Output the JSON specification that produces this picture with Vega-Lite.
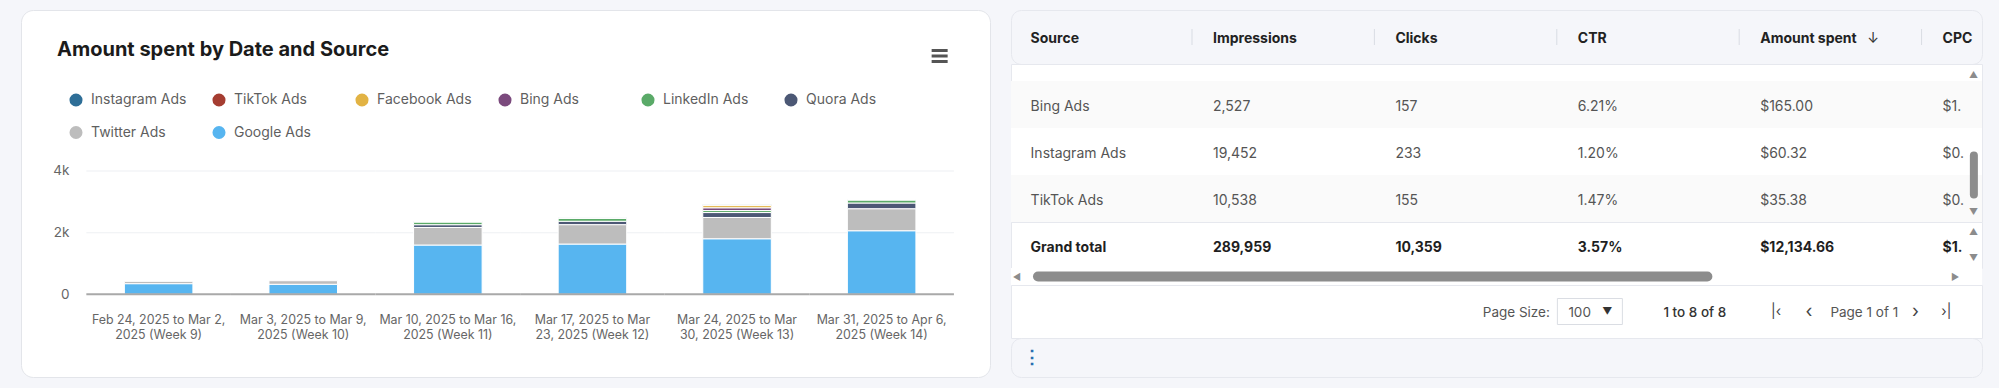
{
  "$schema": "https://vega.github.io/schema/vega-lite/v6.json",
  "background": "#f5f6fa",
  "padding": {"left": 20, "top": 9, "right": 17, "bottom": 11},
  "bounds": "flush",
  "spacing": 21,
  "config": {
    "font": "Inter",
    "view": {"stroke": null},
    "axis": {"labelFont": "Inter"},
    "legend": {"labelFont": "Inter"},
    "text": {"font": "Inter"},
    "title": {"font": "Inter"}
  },
  "resolve": {"scale": {"x": "independent", "y": "independent", "color": "independent"}},
  "datasets": {
    "spend": [
      {"Week": "Feb 24, 2025 to Mar 2, 2025 (Week 9)", "Source": "Google Ads", "Amount": 345},
      {"Week": "Feb 24, 2025 to Mar 2, 2025 (Week 9)", "Source": "Twitter Ads", "Amount": 75},
      {"Week": "Mar 3, 2025 to Mar 9, 2025 (Week 10)", "Source": "Google Ads", "Amount": 325},
      {"Week": "Mar 3, 2025 to Mar 9, 2025 (Week 10)", "Source": "Twitter Ads", "Amount": 115},
      {"Week": "Mar 10, 2025 to Mar 16, 2025 (Week 11)", "Source": "Google Ads", "Amount": 1598},
      {"Week": "Mar 10, 2025 to Mar 16, 2025 (Week 11)", "Source": "Twitter Ads", "Amount": 570},
      {"Week": "Mar 10, 2025 to Mar 16, 2025 (Week 11)", "Source": "Instagram Ads", "Amount": 14},
      {"Week": "Mar 10, 2025 to Mar 16, 2025 (Week 11)", "Source": "TikTok Ads", "Amount": 8},
      {"Week": "Mar 10, 2025 to Mar 16, 2025 (Week 11)", "Source": "Quora Ads", "Amount": 90},
      {"Week": "Mar 10, 2025 to Mar 16, 2025 (Week 11)", "Source": "LinkedIn Ads", "Amount": 80},
      {"Week": "Mar 17, 2025 to Mar 23, 2025 (Week 12)", "Source": "Google Ads", "Amount": 1630},
      {"Week": "Mar 17, 2025 to Mar 23, 2025 (Week 12)", "Source": "Twitter Ads", "Amount": 630},
      {"Week": "Mar 17, 2025 to Mar 23, 2025 (Week 12)", "Source": "Instagram Ads", "Amount": 15},
      {"Week": "Mar 17, 2025 to Mar 23, 2025 (Week 12)", "Source": "TikTok Ads", "Amount": 8},
      {"Week": "Mar 17, 2025 to Mar 23, 2025 (Week 12)", "Source": "Quora Ads", "Amount": 110},
      {"Week": "Mar 17, 2025 to Mar 23, 2025 (Week 12)", "Source": "LinkedIn Ads", "Amount": 90},
      {"Week": "Mar 24, 2025 to Mar 30, 2025 (Week 13)", "Source": "Google Ads", "Amount": 1802},
      {"Week": "Mar 24, 2025 to Mar 30, 2025 (Week 13)", "Source": "Twitter Ads", "Amount": 690},
      {"Week": "Mar 24, 2025 to Mar 30, 2025 (Week 13)", "Source": "Instagram Ads", "Amount": 16},
      {"Week": "Mar 24, 2025 to Mar 30, 2025 (Week 13)", "Source": "TikTok Ads", "Amount": 10},
      {"Week": "Mar 24, 2025 to Mar 30, 2025 (Week 13)", "Source": "Quora Ads", "Amount": 160},
      {"Week": "Mar 24, 2025 to Mar 30, 2025 (Week 13)", "Source": "LinkedIn Ads", "Amount": 65},
      {"Week": "Mar 24, 2025 to Mar 30, 2025 (Week 13)", "Source": "Bing Ads", "Amount": 90},
      {"Week": "Mar 24, 2025 to Mar 30, 2025 (Week 13)", "Source": "Facebook Ads", "Amount": 70},
      {"Week": "Mar 31, 2025 to Apr 6, 2025 (Week 14)", "Source": "Google Ads", "Amount": 2062},
      {"Week": "Mar 31, 2025 to Apr 6, 2025 (Week 14)", "Source": "Twitter Ads", "Amount": 715},
      {"Week": "Mar 31, 2025 to Apr 6, 2025 (Week 14)", "Source": "Instagram Ads", "Amount": 15},
      {"Week": "Mar 31, 2025 to Apr 6, 2025 (Week 14)", "Source": "TikTok Ads", "Amount": 9},
      {"Week": "Mar 31, 2025 to Apr 6, 2025 (Week 14)", "Source": "Quora Ads", "Amount": 185},
      {"Week": "Mar 31, 2025 to Apr 6, 2025 (Week 14)", "Source": "LinkedIn Ads", "Amount": 90}
    ],
    "columns": [
      {"Column": "Source"}, {"Column": "Impressions"}, {"Column": "Clicks"},
      {"Column": "CTR"}, {"Column": "Amount spent"}, {"Column": "CPC"}
    ],
    "sources": [
      {"Source": "Bing Ads", "Impressions": 2527, "Clicks": 157, "CTR": 0.0621, "Amount": 165.00, "CPC": 1.05},
      {"Source": "Instagram Ads", "Impressions": 19452, "Clicks": 233, "CTR": 0.0120, "Amount": 60.32, "CPC": 0.26},
      {"Source": "TikTok Ads", "Impressions": 10538, "Clicks": 155, "CTR": 0.0147, "Amount": 35.38, "CPC": 0.23}
    ],
    "total": [
      {"Source": "Grand total", "Impressions": 289959, "Clicks": 10359, "CTR": 0.0357, "Amount": 12134.66, "CPC": 1.17}
    ]
  },
  "hconcat": [
    {
      "width": 969,
      "height": 367,
      "view": {"fill": "#ffffff", "stroke": "#e3e5ea", "cornerRadius": 12},
      "title": {"text": "Amount spent by Date and Source", "anchor": "start", "frame": "group", "offset": -50, "dx": 36, "fontSize": 20, "fontWeight": 700, "color": "#1b1b1b"},
      "data": {"name": "spend"},
      "transform": [
        {"calculate": "indexof(['Instagram Ads','TikTok Ads','Facebook Ads','Bing Ads','LinkedIn Ads','Quora Ads','Twitter Ads','Google Ads'], datum.Source)", "as": "stackRank"}
      ],
      "layer": [
        {
          "transform": [{"aggregate": [{"op": "count", "as": "n"}], "groupby": ["Week"]}],
          "mark": {"type": "tick", "orient": "horizontal", "size": 144.6, "thickness": 1, "color": "#eef0f3", "opacity": 1},
          "encoding": {
            "x": {"field": "Week", "type": "nominal"},
            "y": {"datum": 2000, "type": "quantitative"}
          }
        },
        {
          "transform": [{"aggregate": [{"op": "count", "as": "n"}], "groupby": ["Week"]}],
          "mark": {"type": "tick", "orient": "horizontal", "size": 144.6, "thickness": 1, "color": "#eef0f3", "opacity": 1},
          "encoding": {
            "x": {"field": "Week", "type": "nominal"},
            "y": {"datum": 4000, "type": "quantitative"}
          }
        },
        {
          "mark": {"type": "bar", "stroke": "#ffffff", "strokeWidth": 1},
          "encoding": {
            "x": {
              "field": "Week", "type": "nominal",
              "scale": {"domain": ["Feb 24, 2025 to Mar 2, 2025 (Week 9)", "Mar 3, 2025 to Mar 9, 2025 (Week 10)", "Mar 10, 2025 to Mar 16, 2025 (Week 11)", "Mar 17, 2025 to Mar 23, 2025 (Week 12)", "Mar 24, 2025 to Mar 30, 2025 (Week 13)", "Mar 31, 2025 to Apr 6, 2025 (Week 14)"], "paddingInner": 0.526, "paddingOuter": 0.6136, "align": 0.5825},
              "axis": {"title": null, "orient": "bottom", "offset": -82.7, "domain": false, "ticks": false, "grid": false, "labelPadding": 19, "labelFontSize": 12.4, "labelColor": "#666666", "labelLineHeight": 15.7, "labelAngle": 0, "labelAlign": "center", "labelBaseline": "top", "labelLimit": 0, "labelOverlap": false, "labelBound": false,
                "labelExpr": "indexof(datum.value, 'Week 12') >= 0 || indexof(datum.value, 'Week 13') >= 0 ? [join(slice(split(datum.value, ' '), 0, 5), ' '), join(slice(split(datum.value, ' '), 5), ' ')] : [join(slice(split(datum.value, ' '), 0, 6), ' '), join(slice(split(datum.value, ' '), 6), ' ')]"}
            },
            "y": {
              "field": "Amount", "type": "quantitative", "stack": "zero",
              "scale": {"domain": [-2683, 9223], "nice": false, "zero": false},
              "axis": {"title": null, "orient": "left", "offset": -65, "values": [0, 2000, 4000], "labelExpr": "datum.value === 0 ? '0' : format(datum.value / 1000, 'd') + 'k'", "domain": false, "ticks": false, "grid": false, "labelPadding": 17, "labelFontSize": 13.5, "labelColor": "#666666", "labelAlign": "right", "labelBaseline": "middle"}
            },
            "color": {
              "field": "Source", "type": "nominal",
              "scale": {"domain": ["Instagram Ads", "TikTok Ads", "Facebook Ads", "Bing Ads", "LinkedIn Ads", "Quora Ads", "Twitter Ads", "Google Ads"],
                        "range": ["#2e6e97", "#a53d31", "#e2b344", "#7b4a7d", "#5aaa68", "#4c5875", "#bdbdbd", "#57b5f0"]},
              "legend": {"title": null, "orient": "none", "legendX": 48, "legendY": 83, "direction": "horizontal", "columns": 6, "gridAlign": "all", "columnPadding": 25, "rowPadding": 18.5, "symbolType": "circle", "symbolSize": 170, "symbolStrokeWidth": 0, "symbolOpacity": 1, "labelFontSize": 14, "labelColor": "#5f5f5f", "labelOffset": 8, "padding": 0, "labelLimit": 0}
            },
            "order": {"field": "stackRank", "type": "quantitative", "sort": "descending"}
          }
        },
        {
          "transform": [{"aggregate": [{"op": "count", "as": "n"}], "groupby": ["Week"]}],
          "mark": {"type": "tick", "orient": "horizontal", "size": 144.6, "thickness": 2, "color": "#a9a9a9", "opacity": 1},
          "encoding": {
            "x": {"field": "Week", "type": "nominal"},
            "y": {"datum": 0, "type": "quantitative"}
          }
        },
        {
          "transform": [{"aggregate": [{"op": "count", "as": "n"}]}],
          "mark": {"type": "point", "shape": "M-1,-0.7H1M-1,0H1M-1,0.7H1", "size": 256, "filled": false, "stroke": "#555555", "strokeWidth": 3, "opacity": 1, "xOffset": 58},
          "encoding": {
            "x": {"datum": "Mar 31, 2025 to Apr 6, 2025 (Week 14)", "type": "nominal"},
            "y": {"datum": 7730, "type": "quantitative"}
          }
        }
      ]
    },
    {
      "vconcat": [
        {
          "width": 971,
          "height": 54,
          "view": {"fill": "#f5f6fa", "stroke": "#e6e8ee", "cornerRadius": 10},
          "data": {"name": "columns"},
          "layer": [
            {
              "mark": {"type": "text", "align": "left", "baseline": "middle", "fontSize": 14, "fontWeight": 700, "color": "#222222", "dy": 2},
              "encoding": {
                "x": {"field": "Column", "type": "nominal", "scale": {"type": "point", "domain": ["Source", "Impressions", "Clicks", "CTR", "Amount spent", "CPC"], "padding": 0.1618, "align": 0.332}, "axis": null},
                "text": {"field": "Column"}
              }
            },
            {
              "transform": [{"filter": "datum.Column !== 'Source'"}],
              "mark": {"type": "point", "shape": "M0,-1V1", "size": 256, "filled": false, "stroke": "#d9dce3", "strokeWidth": 1, "opacity": 1, "xOffset": -21},
              "encoding": {"x": {"field": "Column", "type": "nominal", "axis": null}}
            },
            {
              "transform": [{"filter": "datum.Column === 'Amount spent'"}],
              "mark": {"type": "text", "text": "↓", "align": "center", "baseline": "middle", "fontSize": 14, "color": "#333333", "dx": 113, "dy": 2},
              "encoding": {"x": {"field": "Column", "type": "nominal", "axis": null}}
            }
          ]
        },
        {
          "width": 971,
          "height": 158,
          "view": {"fill": "#ffffff", "stroke": "#e6e8ee"},
          "data": {"name": "sources"},
          "layer": [
            {
              "mark": {"type": "rect"},
              "encoding": {
                "y": {"field": "Source", "type": "nominal", "scale": {"type": "band", "domain": ["Bing Ads", "Instagram Ads", "TikTok Ads"], "paddingInner": 0, "paddingOuter": 0.181, "align": 1}, "axis": null},
                "fill": {"condition": {"test": "datum.Source === 'Instagram Ads'", "value": "#ffffff"}, "value": "#fafafa"}
              }
            },
            {
              "mark": {"type": "text", "align": "left", "baseline": "middle", "fontSize": 14, "color": "#555555", "dy": 2},
              "encoding": {
                "x": {"datum": "Source", "type": "nominal", "scale": {"type": "point", "domain": ["Source", "Impressions", "Clicks", "CTR", "Amount spent", "CPC"], "padding": 0.1618, "align": 0.332}, "axis": null},
                "y": {"field": "Source", "type": "nominal", "axis": null},
                "text": {"field": "Source"}
              }
            },
            {
              "mark": {"type": "text", "align": "left", "baseline": "middle", "fontSize": 14, "color": "#555555", "dy": 2},
              "encoding": {
                "x": {"datum": "Impressions", "type": "nominal", "axis": null},
                "y": {"field": "Source", "type": "nominal", "axis": null},
                "text": {"field": "Impressions", "type": "quantitative", "format": ","}
              }
            },
            {
              "mark": {"type": "text", "align": "left", "baseline": "middle", "fontSize": 14, "color": "#555555", "dy": 2},
              "encoding": {
                "x": {"datum": "Clicks", "type": "nominal", "axis": null},
                "y": {"field": "Source", "type": "nominal", "axis": null},
                "text": {"field": "Clicks", "type": "quantitative", "format": ","}
              }
            },
            {
              "mark": {"type": "text", "align": "left", "baseline": "middle", "fontSize": 14, "color": "#555555", "dy": 2},
              "encoding": {
                "x": {"datum": "CTR", "type": "nominal", "axis": null},
                "y": {"field": "Source", "type": "nominal", "axis": null},
                "text": {"field": "CTR", "type": "quantitative", "format": ".2%"}
              }
            },
            {
              "mark": {"type": "text", "align": "left", "baseline": "middle", "fontSize": 14, "color": "#555555", "dy": 2},
              "encoding": {
                "x": {"datum": "Amount spent", "type": "nominal", "axis": null},
                "y": {"field": "Source", "type": "nominal", "axis": null},
                "text": {"field": "Amount", "type": "quantitative", "format": "$,.2f"}
              }
            },
            {
              "mark": {"type": "text", "align": "left", "baseline": "middle", "fontSize": 14, "color": "#555555", "dy": 2, "limit": 22, "ellipsis": "\u200b"},
              "encoding": {
                "x": {"datum": "CPC", "type": "nominal", "axis": null},
                "y": {"field": "Source", "type": "nominal", "axis": null},
                "text": {"field": "CPC", "type": "quantitative", "format": "$,.2f"}
              }
            },
            {
              "transform": [{"filter": "datum.Source === 'Bing Ads'"}],
              "mark": {"type": "rule", "strokeWidth": 8, "strokeCap": "round", "color": "#8c8c8c", "xOffset": 31.3, "yOffset": 4, "y2Offset": -4},
              "encoding": {
                "x": {"datum": "CPC", "type": "nominal", "axis": null},
                "y": {"datum": "Instagram Ads", "type": "nominal", "axis": null},
                "y2": {"datum": "TikTok Ads"}
              }
            },
            {
              "transform": [{"filter": "datum.Source === 'Bing Ads'"}],
              "mark": {"type": "text", "text": "▲", "align": "center", "baseline": "middle", "fontSize": 9, "color": "#8c8c8c", "dx": 31, "dy": -29.5},
              "encoding": {
                "x": {"datum": "CPC", "type": "nominal", "axis": null},
                "y": {"datum": "Bing Ads", "type": "nominal", "axis": null}
              }
            },
            {
              "transform": [{"filter": "datum.Source === 'Bing Ads'"}],
              "mark": {"type": "text", "text": "▼", "align": "center", "baseline": "middle", "fontSize": 9, "color": "#8c8c8c", "dx": 31, "dy": 13},
              "encoding": {
                "x": {"datum": "CPC", "type": "nominal", "axis": null},
                "y": {"datum": "TikTok Ads", "type": "nominal", "axis": null}
              }
            }
          ]
        },
        {
          "width": 971,
          "height": 46,
          "view": {"fill": "#ffffff", "stroke": "#e6e8ee"},
          "data": {"name": "total"},
          "layer": [
            {
              "mark": {"type": "text", "align": "left", "baseline": "middle", "fontSize": 14, "fontWeight": 700, "color": "#1f1f1f", "dy": 3},
              "encoding": {
                "x": {"datum": "Source", "type": "nominal", "scale": {"type": "point", "domain": ["Source", "Impressions", "Clicks", "CTR", "Amount spent", "CPC"], "padding": 0.1618, "align": 0.332}, "axis": null},
                "text": {"field": "Source"}
              }
            },
            {
              "mark": {"type": "text", "align": "left", "baseline": "middle", "fontSize": 14, "fontWeight": 700, "color": "#1f1f1f", "dy": 3},
              "encoding": {"x": {"datum": "Impressions", "type": "nominal", "axis": null}, "text": {"field": "Impressions", "type": "quantitative", "format": ","}}
            },
            {
              "mark": {"type": "text", "align": "left", "baseline": "middle", "fontSize": 14, "fontWeight": 700, "color": "#1f1f1f", "dy": 3},
              "encoding": {"x": {"datum": "Clicks", "type": "nominal", "axis": null}, "text": {"field": "Clicks", "type": "quantitative", "format": ","}}
            },
            {
              "mark": {"type": "text", "align": "left", "baseline": "middle", "fontSize": 14, "fontWeight": 700, "color": "#1f1f1f", "dy": 3},
              "encoding": {"x": {"datum": "CTR", "type": "nominal", "axis": null}, "text": {"field": "CTR", "type": "quantitative", "format": ".2%"}}
            },
            {
              "mark": {"type": "text", "align": "left", "baseline": "middle", "fontSize": 14, "fontWeight": 700, "color": "#1f1f1f", "dy": 3},
              "encoding": {"x": {"datum": "Amount spent", "type": "nominal", "axis": null}, "text": {"field": "Amount", "type": "quantitative", "format": "$,.2f"}}
            },
            {
              "mark": {"type": "text", "align": "left", "baseline": "middle", "fontSize": 14, "fontWeight": 700, "color": "#1f1f1f", "dy": 3, "limit": 22, "ellipsis": "\u200b"},
              "encoding": {"x": {"datum": "CPC", "type": "nominal", "axis": null}, "text": {"field": "CPC", "type": "quantitative", "format": "$,.2f"}}
            },
            {
              "mark": {"type": "text", "text": "▲", "align": "center", "baseline": "middle", "fontSize": 9, "color": "#8c8c8c", "dx": 31, "dy": -13},
              "encoding": {"x": {"datum": "CPC", "type": "nominal", "axis": null}}
            },
            {
              "mark": {"type": "text", "text": "▼", "align": "center", "baseline": "middle", "fontSize": 9, "color": "#8c8c8c", "dx": 31, "dy": 13},
              "encoding": {"x": {"datum": "CPC", "type": "nominal", "axis": null}}
            }
          ]
        },
        {
          "width": 971,
          "height": 17,
          "view": {"fill": "#ffffff", "stroke": null},
          "data": {"name": "total"},
          "layer": [
            {
              "mark": {"type": "rule", "strokeWidth": 10, "strokeCap": "round", "color": "#8c8c8c", "xOffset": 7.4, "x2Offset": -52.8},
              "encoding": {
                "x": {"datum": "Source", "type": "nominal", "scale": {"type": "point", "domain": ["Source", "Impressions", "Clicks", "CTR", "Amount spent", "CPC"], "padding": 0.1618, "align": 0.332}, "axis": null},
                "x2": {"datum": "Amount spent"}
              }
            },
            {
              "mark": {"type": "text", "text": "◀", "align": "center", "baseline": "middle", "fontSize": 9, "color": "#8c8c8c", "dx": -13.6},
              "encoding": {"x": {"datum": "Source", "type": "nominal", "axis": null}}
            },
            {
              "mark": {"type": "text", "text": "▶", "align": "center", "baseline": "middle", "fontSize": 9, "color": "#8c8c8c", "dx": 12.5},
              "encoding": {"x": {"datum": "CPC", "type": "nominal", "axis": null}}
            }
          ]
        },
        {
          "width": 971,
          "height": 53,
          "view": {"fill": "#ffffff", "stroke": "#e6e8ee"},
          "data": {"name": "total"},
          "layer": [
            {
              "mark": {"type": "text", "text": "Page Size:", "align": "right", "baseline": "middle", "fontSize": 13.5, "color": "#555555", "dx": -27.9, "dy": 1},
              "encoding": {"x": {"datum": "CTR", "type": "nominal", "scale": {"type": "point", "domain": ["Source", "Impressions", "Clicks", "CTR", "Amount spent", "CPC"], "padding": 0.1618, "align": 0.332}, "axis": null}}
            },
            {
              "mark": {"type": "point", "shape": "M-1,-0.4H1V0.4H-1Z", "size": 4225, "filled": false, "stroke": "#dadde3", "strokeWidth": 1, "opacity": 1, "xOffset": 12.1},
              "encoding": {"x": {"datum": "CTR", "type": "nominal", "axis": null}}
            },
            {
              "mark": {"type": "text", "text": "100", "align": "left", "baseline": "middle", "fontSize": 13.5, "color": "#555555", "dx": -9.4, "dy": 1},
              "encoding": {"x": {"datum": "CTR", "type": "nominal", "axis": null}}
            },
            {
              "mark": {"type": "text", "text": "▼", "align": "center", "baseline": "middle", "fontSize": 10, "color": "#333333", "dx": 29.6},
              "encoding": {"x": {"datum": "CTR", "type": "nominal", "axis": null}}
            },
            {
              "mark": {"type": "text", "text": "1 to 8 of 8", "align": "left", "baseline": "middle", "fontSize": 13.5, "fontWeight": 500, "color": "#333333", "dx": 85.6, "dy": 1},
              "encoding": {"x": {"datum": "CTR", "type": "nominal", "axis": null}}
            },
            {
              "mark": {"type": "text", "text": "|‹", "align": "center", "baseline": "middle", "fontSize": 14, "color": "#444444", "dx": 15.9},
              "encoding": {"x": {"datum": "Amount spent", "type": "nominal", "axis": null}}
            },
            {
              "mark": {"type": "text", "text": "‹", "align": "center", "baseline": "middle", "fontSize": 18, "color": "#444444", "dx": 48.7},
              "encoding": {"x": {"datum": "Amount spent", "type": "nominal", "axis": null}}
            },
            {
              "mark": {"type": "text", "text": "Page 1 of 1", "align": "left", "baseline": "middle", "fontSize": 13.5, "color": "#555555", "dx": 70.2, "dy": 1},
              "encoding": {"x": {"datum": "Amount spent", "type": "nominal", "axis": null}}
            },
            {
              "mark": {"type": "text", "text": "›", "align": "center", "baseline": "middle", "fontSize": 18, "color": "#444444", "dx": -27.2},
              "encoding": {"x": {"datum": "CPC", "type": "nominal", "axis": null}}
            },
            {
              "mark": {"type": "text", "text": "›|", "align": "center", "baseline": "middle", "fontSize": 14, "color": "#444444", "dx": 3.8},
              "encoding": {"x": {"datum": "CPC", "type": "nominal", "axis": null}}
            }
          ]
        },
        {
          "width": 971,
          "height": 39,
          "view": {"fill": "#f5f6fa", "stroke": "#e6e8ee", "cornerRadius": 10},
          "data": {"name": "total"},
          "mark": {"type": "text", "text": "⋮", "align": "center", "baseline": "middle", "fontSize": 18, "fontWeight": 700, "color": "#2a6db0", "dx": 1.4},
          "encoding": {"x": {"datum": "Source", "type": "nominal", "scale": {"type": "point", "domain": ["Source", "Impressions", "Clicks", "CTR", "Amount spent", "CPC"], "padding": 0.1618, "align": 0.332}, "axis": null}}
        }
      ],
      "spacing": 0,
      "bounds": "flush",
      "resolve": {"scale": {"x": "independent", "y": "independent"}}
    }
  ]
}
